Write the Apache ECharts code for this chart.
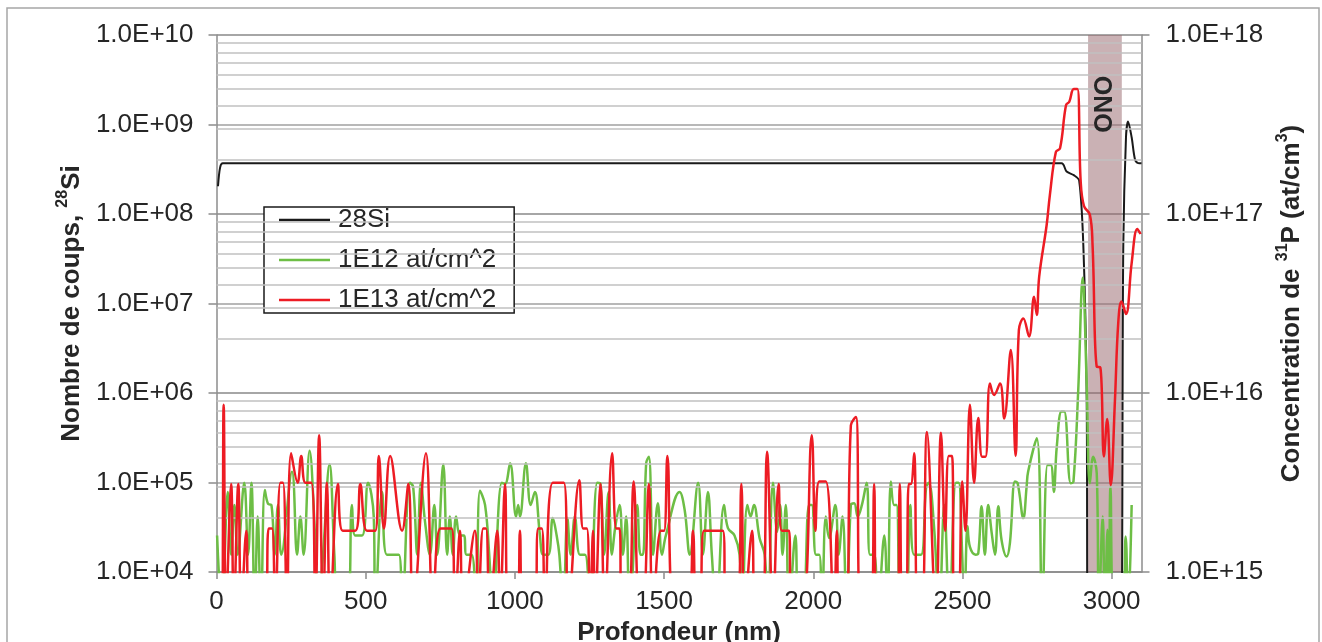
<!DOCTYPE html>
<html>
<head>
<meta charset="utf-8">
<script src="https://cdn.jsdelivr.net/npm/echarts@6/dist/echarts.min.js"></script>
<style>
  html, body { margin: 0; padding: 0; background: #fff; }
  #chart { width: 1322px; height: 642px; }
</style>
</head>
<body>
<div id="chart"></div>
<script>
// depth (nm), counts of 28Si (left axis)
const si28 = [
  [5, 2.04e8], [12, 3.3e8], [21, 3.68e8], [1000, 3.68e8], [2000, 3.68e8], [2832, 3.68e8],
  [2849, 2.98e8], [2873, 2.72e8], [2891, 2.37e8], [2905, 4.5e7], [2916, 1.14e6], [2921, 1e3],
  [3028, 1e3], [3039, 4.5e7], [3048, 7.2e8], [3055, 1.08e9], [3067, 7.2e8], [3078, 4.1e8],
  [3089, 3.7e8], [3100, 3.68e8]
];

// depth (nm), P concentration at/cm3 (right axis) - 1E12 implant
const p1e12 = [
  [2,1.6e15],[18,6e14],[38,2.8e15],[49,1.25e15],[60,2.37e15],[71,1.25e15],[93,3.15e15],[106,1.25e15],
  [117,3.15e15],[128,6e14],[138,2.04e15],[149,6e14],[162,2.87e15],[173,2.4e15],[184,2.37e15],[195,1.25e15],
  [206,2.37e15],[217,1.25e15],[253,3.63e15],[270,1.25e15],[281,2.04e15],[292,1.25e15],[312,4.75e15],
  [329,1.76e15],[340,6e14],[357,1.25e15],[379,4.0e15],[395,1.25e15],[407,6e14],[437,6e14],[454,2.37e15],
  [465,1.6e15],[488,1.6e15],[508,3.15e15],[527,2.04e15],[532,6e14],[555,2.8e15],[571,1.25e15],[611,1.25e15],
  [622,6e14],[648,3.15e15],[659,3.0e15],[673,1.25e15],[685,3.15e15],[699,1.9e15],[715,1.25e15],[730,2.37e15],
  [740,1.25e15],[760,4.0e15],[773,1.25e15],[782,2.04e15],[792,1.25e15],[803,2.04e15],[816,1.6e15],[829,1.6e15],
  [838,1.25e15],[855,1.25e15],[870,6e14],[883,2.84e15],[900,2.37e15],[914,1.25e15],[926,6e14],[956,3.15e15],
  [967,3.1e15],[984,4.05e15],[1004,2.04e15],[1011,2.37e15],[1017,2.04e15],[1037,4.05e15],[1053,2.37e15],
  [1067,2.8e15],[1084,1.6e15],[1095,1.25e15],[1112,1.25e15],[1127,2.0e15],[1140,1.6e15],[1149,1.25e15],
  [1162,6e14],[1176,2.0e15],[1187,1.25e15],[1201,2.04e15],[1218,1.25e15],[1235,1.25e15],[1252,6e14],
  [1276,3.15e15],[1287,3.1e15],[1299,1.25e15],[1314,2.8e15],[1325,1.25e15],[1336,1.76e15],[1351,2.37e15],
  [1362,1.25e15],[1373,2.04e15],[1385,6e14],[1410,2.37e15],[1421,1.25e15],[1429,1.25e15],[1440,4.05e15],
  [1449,4.4e15],[1463,1.25e15],[1479,2.42e15],[1493,1.25e15],[1506,1.6e15],[1552,2.8e15],[1569,2.22e15],
  [1586,1.25e15],[1614,3.15e15],[1630,1.25e15],[1647,2.8e15],[1660,1.25e15],[1675,6e14],[1701,2.37e15],
  [1714,1.76e15],[1736,1.6e15],[1753,1.25e15],[1761,6e14],[1779,2.37e15],[1790,2.04e15],[1801,2.37e15],
  [1820,1.55e15],[1837,1.25e15],[1848,6e14],[1865,3.15e15],[1879,1.68e15],[1889,2.37e15],[1897,1.25e15],
  [1908,2.37e15],[1919,6e14],[1940,1.6e15],[1951,6e14],[1965,6e14],[1986,2.37e15],[1995,2.37e15],
  [2009,1.25e15],[2020,1.25e15],[2029,6e14],[2042,2.04e15],[2053,1.55e15],[2074,2.37e15],[2085,1.25e15],
  [2098,2.04e15],[2112,6e14],[2126,2.37e15],[2137,2.42e15],[2149,2.04e15],[2163,2.37e15],[2179,3.15e15],
  [2190,1.25e15],[2204,1.25e15],[2216,6e14],[2238,1.6e15],[2249,6e14],[2260,3.2e15],[2271,2.37e15],
  [2279,2.37e15],[2294,6e14],[2310,6e14],[2325,2.37e15],[2338,1.25e15],[2361,1.25e15],[2378,2.95e15],
  [2387,3.15e15],[2405,1.76e15],[2422,6e14],[2439,2.37e15],[2456,6e14],[2478,3.15e15],[2487,3.15e15],
  [2499,1.25e15],[2506,6e14],[2517,1.8e15],[2525,1.38e15],[2544,1.25e15],[2553,1.27e15],[2564,2.33e15],
  [2575,1.25e15],[2586,2.37e15],[2598,1.65e15],[2609,1.25e15],[2620,2.33e15],[2631,1.51e15],[2648,1.22e15],
  [2659,1.45e15],[2676,3.2e15],[2685,3.13e15],[2704,2.0e15],[2715,3.0e15],[2720,3.63e15],[2749,5.58e15],
  [2767,6e14],[2785,3.96e15],[2796,3.96e15],[2806,2.8e15],[2816,5.0e15],[2832,7.87e15],[2841,7.87e15],
  [2863,3.13e15],[2872,3.2e15],[2888,1.04e16],[2903,4.4e16],[2916,1.18e16],[2927,3.13e15],[2938,4.4e15],
  [2950,3.56e15],[2957,6e14],[2970,2.04e15],[2977,6e14],[2986,1.72e15],[2991,6e14],[2996,3.0e15],
  [3009,6e14],[3034,6e14],[3047,1.58e15],[3055,6e14],[3067,2.37e15]
];

// depth (nm), P concentration at/cm3 (right axis) - 1E13 implant
const p1e13 = [
  [0,6e14],[16,6e14],[24,8.6e15],[32,6e14],[49,3.1e15],[58,6e14],[73,3.1e15],[83,6e14],[100,1.7e15],
  [110,6e14],[163,6e14],[175,1.75e15],[186,1.75e15],[197,6e14],[214,3.15e15],[223,3.15e15],[236,6e14],
  [250,4.6e15],[272,3.15e15],[284,4.45e15],[298,3.15e15],[318,3.15e15],[331,6e14],[344,5.8e15],[357,6e14],
  [370,3.15e15],[381,6e14],[407,3.1e15],[423,1.7e15],[465,1.7e15],[482,3.1e15],[504,1.7e15],[532,1.7e15],
  [544,4.45e15],[561,1.75e15],[582,4.45e15],[622,1.7e15],[643,3.1e15],[659,6e14],[702,4.6e15],[726,6e14],
  [751,1.75e15],[788,1.75e15],[799,6e14],[816,1.7e15],[827,6e14],[866,1.7e15],[877,6e14],[894,1.75e15],
  [903,1.75e15],[916,6e14],[941,1.7e15],[950,6e14],[967,3.1e15],[978,6e14],[1007,6e14],[1017,1.7e15],
  [1026,6e14],[1066,6e14],[1078,1.75e15],[1090,1.75e15],[1101,6e14],[1127,3.15e15],[1164,3.15e15],
  [1179,6e14],[1216,3.25e15],[1229,1.75e15],[1241,1.75e15],[1252,6e14],[1262,1.7e15],[1269,6e14],
  [1287,3.1e15],[1301,6e14],[1326,4.6e15],[1340,1.75e15],[1351,1.75e15],[1357,6e14],[1379,6e14],
  [1398,3.2e15],[1418,6e14],[1429,6e14],[1449,3.1e15],[1463,6e14],[1489,1.7e15],[1500,1.7e15],
  [1511,4.45e15],[1535,6e14],[1580,6e14],[1597,1.7e15],[1608,6e14],[1620,6e14],[1634,1.7e15],
  [1697,1.7e15],[1708,6e14],[1744,6e14],[1759,3.1e15],[1770,6e14],[1795,1.7e15],[1806,6e14],[1828,6e14],
  [1845,4.7e15],[1865,6e14],[1884,3.1e15],[1895,1.7e15],[1919,1.7e15],[1925,6e14],[1962,6e14],
  [1995,5.8e15],[2007,1.7e15],[2020,3.2e15],[2042,3.2e15],[2069,6e14],[2079,1.7e15],[2087,6e14],
  [2109,6e14],[2126,6.6e15],[2143,7.35e15],[2160,6e14],[2193,6e14],[2204,3.1e15],[2213,6e14],[2280,6e14],
  [2290,3.1e15],[2299,6e14],[2310,6e14],[2320,3.1e15],[2327,3.1e15],[2338,4.6e15],[2350,6e14],[2364,6e14],
  [2381,6.05e15],[2411,6e14],[2428,6e15],[2442,1.7e15],[2454,4.45e15],[2465,4.45e15],[2472,6e14],
  [2485,6e14],[2499,3.2e15],[2510,1.7e15],[2525,8.6e15],[2539,3.15e15],[2553,7.25e15],[2566,4.4e15],
  [2577,4.4e15],[2592,1.13e16],[2606,9.76e15],[2626,1.13e16],[2640,7.2e15],[2662,1.74e16],[2678,4.45e15],
  [2689,2.25e16],[2704,2.61e16],[2723,2.07e16],[2740,3.45e16],[2749,2.73e16],[2757,4.45e16],[2782,8.65e16],
  [2793,1.28e17],[2813,2.22e17],[2827,2.33e17],[2847,4.05e17],[2858,4.24e17],[2873,4.99e17],[2885,4.99e17],
  [2896,1.54e17],[2907,1.11e17],[2927,9.9e16],[2936,6.7e16],[2950,1.4e16],[2962,1.39e16],[2974,4.42e15],
  [2985,7.16e15],[2997,3.06e15],[3011,9.1e15],[3022,2.45e16],[3033,3.24e16],[3048,2.76e16],[3067,5.32e16],
  [3086,8.24e16],[3097,7.73e16]
];

// ONO layer range (nm) and label position
const onoRange = [2921, 3034];
const onoLabelAt = [2978, 4.1e17];

// minor gridlines, values on the right axis
const minorTicks = [
  2e15, 3e15, 4e15, 5e15, 6e15, 7e15, 8e15, 9e15,
  2e16, 3e16, 4e16, 5e16, 6e16, 7e16, 8e16, 9e16,
  2e17, 3e17, 4e17, 5e17, 6e17, 7e17, 8e17, 9e17
];

const FONT = "'Liberation Sans', Arial, sans-serif";
const TXT = "#262626";
const AXISC = "#8c8c8c";

function sci(v) {
  const e = Math.round(Math.log10(v));
  return "1.0E+" + String(e).padStart(2, "0");
}

const chart = echarts.init(document.getElementById("chart"), null, { renderer: "canvas" });

const titleRich = {
  t: { fontSize: 26, fontWeight: "bold", color: TXT, fontFamily: FONT, verticalAlign: "bottom", lineHeight: 30 },
  s: { fontSize: 16, fontWeight: "bold", color: TXT, fontFamily: FONT, verticalAlign: "top", lineHeight: 30 }
};

const option = {
  animation: false,
  backgroundColor: "#fff",
  textStyle: { fontFamily: FONT },
  graphic: [
    {
      type: "rect",
      shape: { x: 7, y: 8, width: 1312, height: 660 },
      style: { fill: "none", stroke: "#a6a6a6", lineWidth: 1.5 },
      silent: true,
      z: -10
    }
  ],
  grid: {
    left: 216.5,
    right: 180.5,
    top: 35,
    bottom: 70,
    outerBoundsMode: "none"
  },
  legend: {
    data: ["28Si", "1E12 at/cm^2", "1E13 at/cm^2"],
    orient: "vertical",
    left: 264,
    top: 207,
    icon: "rect",
    itemWidth: 51,
    itemHeight: 2.5,
    itemGap: 14,
    padding: [0, 18, 0, 15],
    backgroundColor: "#fff",
    borderColor: "#1a1a1a",
    borderWidth: 1.5,
    textStyle: { fontSize: 26, color: TXT, fontFamily: FONT, lineHeight: 22, padding: [0, 0, 0, 3] }
  },
  xAxis: {
    type: "value",
    min: 0,
    max: 3100,
    interval: 500,
    name: "Profondeur (nm)",
    nameLocation: "middle",
    nameGap: 40,
    nameTextStyle: { fontSize: 26, fontWeight: "bold", color: TXT, fontFamily: FONT },
    axisLine: { show: true, lineStyle: { color: AXISC, width: 1.5 } },
    axisTick: { show: true, length: 7, lineStyle: { color: AXISC, width: 1.5 } },
    axisLabel: {
      fontSize: 26, color: TXT, margin: 17, showMaxLabel: false, fontFamily: FONT,
      formatter: v => String(v)
    },
    splitLine: { show: false }
  },
  yAxis: [
    {
      type: "log",
      logBase: 10,
      min: 1e4,
      max: 1e10,
      splitNumber: 6,
      position: "left",
      name: "{t|Nombre de coups, }{s|28}{t|Si}",
      nameLocation: "middle",
      nameRotate: 90,
      nameGap: 122,
      nameTextStyle: { rich: titleRich },
      axisLine: { show: true, lineStyle: { color: AXISC, width: 1.5 } },
      axisTick: { show: true, length: 8, lineStyle: { color: AXISC, width: 1.5 } },
      axisLabel: { fontSize: 26, color: TXT, margin: 23, formatter: sci, fontFamily: FONT },
      splitLine: { show: true, lineStyle: { color: "#a0a0a0", width: 1.5 } }
    },
    {
      type: "log",
      logBase: 10,
      min: 1e15,
      max: 1e18,
      splitNumber: 3,
      position: "right",
      name: "{t|Concentration de }{s|31}{t|P (at/cm}{s|3}{t|)}",
      nameLocation: "middle",
      nameRotate: 90,
      nameGap: 133,
      nameTextStyle: { rich: titleRich },
      axisLine: { show: true, lineStyle: { color: AXISC, width: 1.5 } },
      axisTick: { show: true, length: 8, lineStyle: { color: AXISC, width: 1.5 } },
      axisLabel: { fontSize: 26, color: TXT, margin: 24, formatter: sci, fontFamily: FONT },
      splitLine: { show: true, lineStyle: { color: "#a0a0a0", width: 1.5 } }
    }
  ],
  series: [
    {
      name: "minor grid",
      type: "line",
      yAxisIndex: 1,
      data: [],
      z: 1,
      silent: true,
      markLine: {
        silent: true,
        symbol: ["none", "none"],
        label: { show: false },
        lineStyle: { color: "#c0c0c0", width: 1.5, type: "solid" },
        emphasis: { disabled: true },
        data: minorTicks.map(v => ({ yAxis: v }))
      }
    },
    {
      name: "ONO",
      type: "line",
      yAxisIndex: 1,
      data: [],
      z: 2,
      silent: true,
      markArea: {
        silent: true,
        itemStyle: { color: "rgba(150,100,105,0.5)" },
        data: [[{ xAxis: onoRange[0] }, { xAxis: onoRange[1] }]]
      },
      markPoint: {
        silent: true,
        symbol: "circle",
        symbolSize: 1,
        itemStyle: { color: "rgba(0,0,0,0)" },
        label: {
          show: true,
          position: "inside",
          rotate: 90,
          formatter: "ONO",
          fontSize: 25,
          fontWeight: "bold",
          color: TXT,
          fontFamily: FONT
        },
        data: [{ coord: onoLabelAt }]
      }
    },
    {
      name: "28Si",
      type: "line",
      yAxisIndex: 0,
      data: si28,
      symbol: "none",
      smooth: 0.3,
      z: 3,
      lineStyle: { color: "#1a1a1a", width: 2 },
      itemStyle: { color: "#1a1a1a" }
    },
    {
      name: "1E12 at/cm^2",
      type: "line",
      yAxisIndex: 1,
      data: p1e12,
      symbol: "none",
      smooth: 0.4,
      z: 4,
      lineStyle: { color: "#6dbe45", width: 2.5 },
      itemStyle: { color: "#6dbe45" }
    },
    {
      name: "1E13 at/cm^2",
      type: "line",
      yAxisIndex: 1,
      data: p1e13,
      symbol: "none",
      smooth: 0.4,
      z: 5,
      lineStyle: { color: "#ed1c24", width: 2.5 },
      itemStyle: { color: "#ed1c24" }
    }
  ]
};

chart.setOption(option);
</script>
</body>
</html>
